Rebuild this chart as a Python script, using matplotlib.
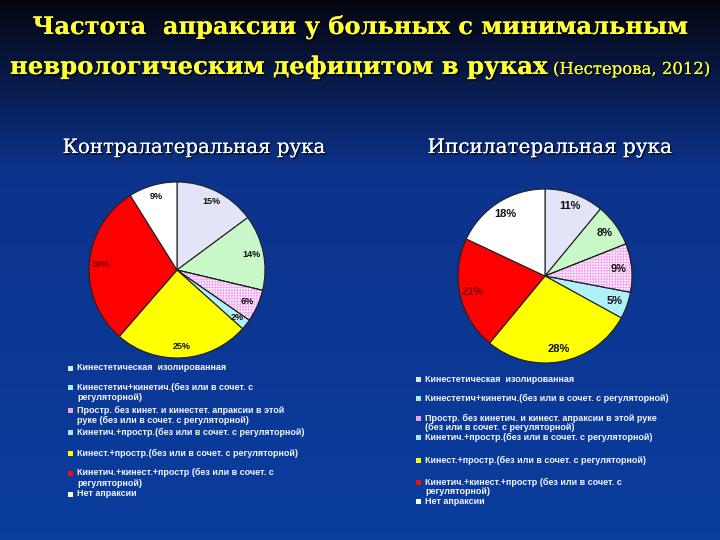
import numpy as np
import matplotlib
matplotlib.use("Agg")
import matplotlib.pyplot as plt
from matplotlib.patches import Wedge, Rectangle
import matplotlib.patheffects as pe

# ---------------- data ----------------
title_line1 = "Частота  апраксии у больных с минимальным"
title_line2 = "неврологическим дефицитом в руках"
title_source = "(Нестерова, 2012)"
subtitle_left = "Контралатеральная рука"
subtitle_right = "Ипсилатеральная рука"

values_left = [15, 14, 6, 2, 25, 30, 9]
values_right = [11, 8, 9, 5, 28, 21, 18]

legend_left = [
    "Кинестетическая  изолированная",
    "Кинестетич+кинетич.(без или в сочет. с\nрегуляторной)",
    "Простр. без кинет. и кинестет. апраксии в этой\nруке (без или в сочет. с регуляторной)",
    "Кинетич.+простр.(без или в сочет. с регуляторной)",
    "Кинест.+простр.(без или в сочет. с регуляторной)",
    "Кинетич.+кинест.+простр (без или в сочет. с\nрегуляторной)",
    "Нет апраксии",
]
legend_right = [
    "Кинестетическая  изолированная",
    "Кинестетич+кинетич.(без или в сочет. с регуляторной)",
    "Простр. без кинетич. и кинест. апраксии в этой руке\n(без или в сочет. с регуляторной)",
    "Кинетич.+простр.(без или в сочет. с регуляторной)",
    "Кинест.+простр.(без или в сочет. с регуляторной)",
    "Кинетич.+кинест.+простр (без или в сочет. с\nрегуляторной)",
    "Нет апраксии",
]

# ---------------- styles ----------------
slice_colors = ["#E4E4F8", "#C8F8C8", "#FFFFFF", "#B0F0F8", "#FFFF00", "#FF0000", "#FFFFFF"]
marker_colors = ["#E4E4F8", "#A8F0F0", "#F0A0F0", "#A8E8F8", "#FFFF00", "#EE1010", "#FFFFFF"]
hatched_index = 2
label_colors = ["#101010", "#101010", "#101010", "#101010", "#101010", "#7a0000", "#101010"]

W, H = 720, 540
fig = plt.figure(figsize=(W / 100, H / 100), dpi=100)

# background gradient
bg = fig.add_axes([0, 0, 1, 1])
bg.set_axis_off()
yy = np.linspace(0, 1, 540)
top = np.array([0.02, 0.02, 0.06])
mid = np.array([0.05, 0.20, 0.55])
bot = np.array([0.04, 0.24, 0.62])
t1 = np.clip(yy / 0.32, 0, 1)[:, None]
col = top * (1 - t1) + mid * t1
t2 = np.clip((yy - 0.32) / 0.68, 0, 1)[:, None]
col = col * (1 - t2) + bot * t2
img = np.repeat(col[:, None, :], 2, axis=1)
bg.imshow(img, aspect="auto", extent=[0, 1, 1, 0])
bg.set_xlim(0, 1)
bg.set_ylim(1, 0)


def px(x, y):
    return x / W, 1 - y / H


renderer = fig.canvas.get_renderer()
shadow = [pe.withSimplePatchShadow(offset=(1.2, -1.2), shadow_rgbFace="#000000", alpha=0.7), pe.Normal()]


def fit_text(x, y, s, target_w, color, family, ha="center", weight="normal", va="baseline"):
    fx, fy = px(x, y)
    t = fig.text(fx, fy, s, color=color, family=family, fontsize=20, ha=ha, va=va, weight=weight)
    w = t.get_window_extent(renderer).width
    t.set_fontsize(20 * target_w / w)
    return t


serif = ["DejaVu Serif"]
t1o = fit_text(360, 34, title_line1, 655, "#FFFF33", serif, weight="bold")
t1o.set_path_effects(shadow)
t2o = fit_text(10, 74, title_line2, 538, "#FFFF33", serif, ha="left", weight="bold")
t2o.set_path_effects(shadow)
t3o = fit_text(553, 74, title_source, 157, "#FFFF33", serif, ha="left")
t3o.set_path_effects(shadow)

s1 = fit_text(194, 153, subtitle_left, 262, "#FFFFFF", serif)
s2 = fit_text(550, 153, subtitle_right, 244, "#FFFFFF", serif)
s1.set_path_effects(shadow)
s2.set_path_effects(shadow)


def draw_pie(cx, cy, r, values, label_size, label_dist):
    ax = fig.add_axes([(cx - r) / W, (H - cy - r) / H, 2 * r / W, 2 * r / H])
    wedges, _ = ax.pie(values, colors=slice_colors, startangle=90, counterclock=False,
                       wedgeprops=dict(edgecolor="#202020", linewidth=0.8))
    w = wedges[hatched_index]
    over = Wedge(w.center, w.r, w.theta1, w.theta2, facecolor="none",
                 edgecolor="#F4A8F4", hatch="++++++", linewidth=0)
    ax.add_patch(over)
    outline = Wedge(w.center, w.r, w.theta1, w.theta2, facecolor="none",
                    edgecolor="#202020", linewidth=0.8)
    ax.add_patch(outline)
    for i, (wd, v) in enumerate(zip(wedges, values)):
        ang = np.deg2rad((wd.theta1 + wd.theta2) / 2)
        ax.text(label_dist * np.cos(ang), label_dist * np.sin(ang), f"{v}%",
                ha="center", va="center", fontsize=label_size, weight="bold",
                family="Liberation Sans", color=label_colors[i])
    ax.set_xlim(-1, 1)
    ax.set_ylim(-1, 1)
    ax.set_axis_off()
    return ax


plt.rcParams["hatch.linewidth"] = 0.7
draw_pie(177, 270, 88, values_left, 6.5, 0.87)
draw_pie(545, 276, 87, values_right, 8, 0.85)


def draw_legend(labels, ys, x_marker, x_text, size, linespacing):
    for lab, y, c in zip(labels, ys, marker_colors):
        nlines = lab.count("\n") + 1
        fx, fy = px(x_text, y)
        fig.text(fx, fy, lab, color="#F4F4FF", fontsize=size, family="Liberation Sans",
                 weight="bold", ha="left", va="center", linespacing=linespacing)
        first_y = y - (nlines - 1) * size * linespacing * 1.39 / 2 * 0.9
        mx, my = px(x_marker, first_y + 2.5)
        fig.add_artist(Rectangle((mx, my), 5 / W, 5 / H, transform=fig.transFigure,
                                 facecolor=c, edgecolor="none"))


draw_legend(legend_left, [368, 392.5, 415.5, 432, 453, 478, 494], 68, 77, 6.5, 1.2)
draw_legend(legend_right, [379, 398, 423, 437, 460, 486.5, 501], 416, 425, 6.5, 1.0)

fig.savefig("out.png", dpi=100)
